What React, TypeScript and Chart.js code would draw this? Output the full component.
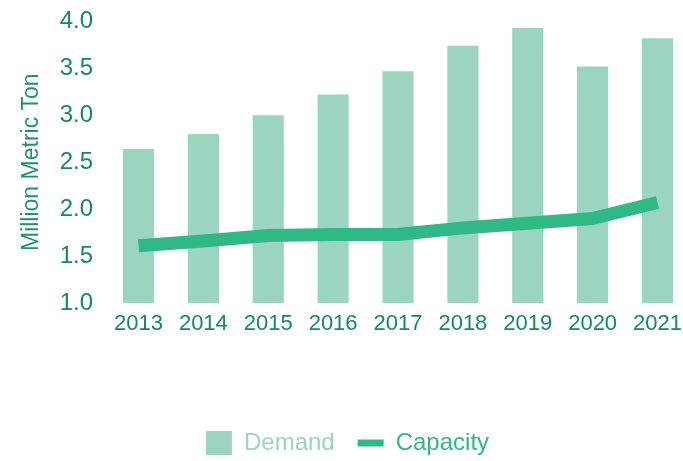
import React, { useEffect, useRef } from 'react';
import { Chart, registerables } from 'chart.js';

Chart.register(...registerables);

const years = ['2013', '2014', '2015', '2016', '2017', '2018', '2019', '2020', '2021'];
const demand = [2.64, 2.8, 3.0, 3.22, 3.47, 3.74, 3.93, 3.52, 3.82];
const capacity = [1.61, 1.66, 1.72, 1.73, 1.73, 1.8, 1.85, 1.9, 2.07];
const yTicks = [1.0, 1.5, 2.0, 2.5, 3.0, 3.5, 4.0];

const BAR = '#9bd4bf';
const LINE = '#2eb987';
const TICK = '#138a5f';
const TITLE = '#1f9468';
const FONT = "'Liberation Sans', Arial, Helvetica, sans-serif";

export default function App() {
  const ref = useRef<HTMLCanvasElement>(null);

  useEffect(() => {
    document.body.style.margin = '0';
    const xMin = -0.5934;
    const xMax = 8.393;
    const chart = new Chart(ref.current as HTMLCanvasElement, {
      type: 'bar',
      data: {
        datasets: [
          {
            type: 'bar',
            label: 'Demand',
            data: demand.map((v, i) => ({ x: i, y: v })),
            backgroundColor: BAR,
            borderWidth: 0,
            barPercentage: 0.6,
            categoryPercentage: 0.8,
            order: 1,
          } as any,
          {
            type: 'line',
            label: 'Capacity',
            data: capacity.map((v, i) => ({ x: i, y: v })),
            borderColor: LINE,
            backgroundColor: LINE,
            borderWidth: 13,
            pointRadius: 0,
            tension: 0,
            borderCapStyle: 'butt',
            borderJoinStyle: 'round',
            order: 0,
          } as any,
        ],
      },
      options: {
        animation: false,
        responsive: true,
        maintainAspectRatio: false,
        layout: { padding: { top: 20, right: 0, bottom: -4, left: 12 } },
        plugins: {
          tooltip: { enabled: false },
          legend: {
            position: 'bottom',
            labels: {
              usePointStyle: true,
              pointStyleWidth: 26,
              boxHeight: 26,
              padding: 23,
              font: { family: FONT, size: 24 },
              generateLabels: () => [
                {
                  text: 'Demand',
                  fillStyle: BAR,
                  strokeStyle: BAR,
                  lineWidth: 0,
                  pointStyle: 'rect',
                  fontColor: BAR,
                  datasetIndex: 0,
                  hidden: false,
                } as any,
                {
                  text: 'Capacity',
                  fillStyle: LINE,
                  strokeStyle: LINE,
                  lineWidth: 7,
                  pointStyle: 'line',
                  fontColor: LINE,
                  datasetIndex: 1,
                  hidden: false,
                } as any,
              ],
            },
          },
        },
        scales: {
          x: {
            type: 'linear',
            min: xMin,
            max: xMax,
            offset: false,
            grid: { display: false, drawTicks: false, offset: false },
            border: { display: false },
            afterBuildTicks: (s: any) => {
              s.ticks = years.map((_, i) => ({ value: i }));
            },
            afterFit: (s: any) => {
              s.height = 105;
              s.paddingLeft = 0;
              s.paddingRight = 0;
            },
            ticks: {
              autoSkip: false,
              maxRotation: 0,
              padding: 8,
              color: TICK,
              font: { family: FONT, size: 22 },
              callback: (v: any) => years[v] ?? '',
            },
          } as any,
          y: {
            min: 1,
            max: 4,
            beginAtZero: false,
            grid: { display: false, drawTicks: false },
            border: { display: false },
            afterBuildTicks: (s: any) => {
              s.ticks = yTicks.map((v) => ({ value: v }));
            },
            afterFit: (s: any) => {
              s.width = 88;
            },
            ticks: {
              padding: 7,
              color: TICK,
              font: { family: FONT, size: 24 },
              callback: (v: any) => Number(v).toFixed(1),
            },
            title: {
              display: true,
              text: 'Million Metric Ton',
              color: TITLE,
              font: { family: FONT, size: 23 },
              padding: { top: 6, bottom: 0 },
            },
          } as any,
        },
      },
    });
    return () => chart.destroy();
  }, []);

  return (
    <div style={{ position: 'fixed', left: 0, top: 0, width: 683, height: 461 }}>
      <canvas ref={ref} />
    </div>
  );
}
